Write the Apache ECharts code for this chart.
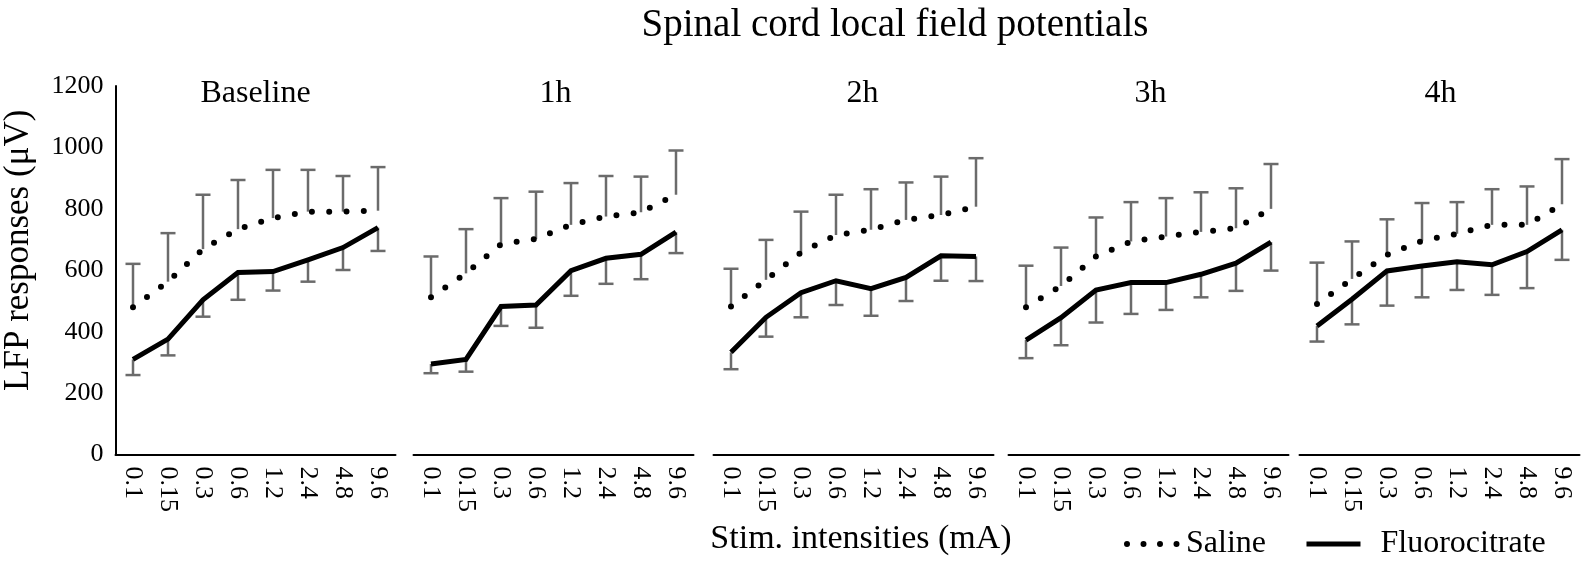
<!DOCTYPE html>
<html><head><meta charset="utf-8">
<script src="https://cdn.jsdelivr.net/npm/echarts@6/dist/echarts.min.js"></script>
<style>html,body{margin:0;padding:0;background:#fff}#c{width:1594px;height:574px}</style>
</head><body><div id="c"></div>
<script>
// ---------- data ----------
const categories = ['0.1', '0.15', '0.3', '0.6', '1.2', '2.4', '4.8', '9.6'];
const panelTitles = ['Baseline', '1h', '2h', '3h', '4h'];
const yMin = 0, yMax = 1200, yStep = 200;

const salineBaseline = [480, 563, 669, 734, 770, 791, 791, 794];
const salineBaselineSE = [141, 158, 177, 160, 157, 136, 116, 142];
const fluoroBaseline = [310, 376, 504, 593, 596, 634, 674, 739];
const fluoroBaselineSE = [51, 53, 55, 89, 62, 71, 73, 76];

const saline1h = [512, 590, 685, 702, 748, 775, 789, 846];
const saline1hSE = [133, 144, 150, 154, 136, 132, 116, 144];
const fluoro1h = [295, 310, 482, 487, 599, 639, 652, 724];
const fluoro1hSE = [30, 40, 63, 74, 82, 83, 81, 68];

const saline2h = [482, 569, 658, 715, 732, 764, 780, 807];
const saline2hSE = [123, 130, 133, 131, 132, 122, 125, 158];
const fluoro2h = [333, 447, 527, 566, 540, 577, 647, 645];
const fluoro2hSE = [55, 63, 80, 79, 88, 77, 81, 80];

const saline3h = [480, 549, 645, 694, 710, 725, 737, 800];
const saline3hSE = [135, 125, 127, 128, 125, 129, 130, 146];
const fluoro3h = [373, 446, 536, 560, 560, 587, 623, 692];
const fluoro3hSE = [59, 90, 106, 102, 89, 75, 90, 93];

const saline4h = [490, 572, 650, 696, 719, 748, 748, 815];
const saline4hSE = [135, 122, 116, 123, 103, 116, 125, 147];
const fluoro4h = [419, 506, 598, 614, 628, 618, 661, 732];
const fluoro4hSE = [51, 82, 113, 102, 92, 98, 119, 98];

const salineMeans = [salineBaseline, saline1h, saline2h, saline3h, saline4h];
const salineSEs = [salineBaselineSE, saline1hSE, saline2hSE, saline3hSE, saline4hSE];
const fluoroMeans = [fluoroBaseline, fluoro1h, fluoro2h, fluoro3h, fluoro4h];
const fluoroSEs = [fluoroBaselineSE, fluoro1hSE, fluoro2hSE, fluoro3hSE, fluoro4hSE];

// ---------- layout / style ----------
const FONT = '"Liberation Serif", "Times New Roman", serif';
const gridLefts = [115.5, 413.5, 713.5, 1008.5, 1299.5];
const titleShift = [0, 2, 9, 2, 1];
const gridWidth = 280, gridTop = 86, gridHeight = 368.6;
const ERR_COLOR = '#6b6b6b';

function errRender(dir) {
  return function (params, api) {
    const x = api.value(0), m = api.value(1), e = api.value(2);
    const p0 = api.coord([x, m]);
    const p1 = api.coord([x, m + dir * e]);
    const hw = 7.5;
    return {
      type: 'group',
      children: [
        { type: 'line', shape: { x1: p0[0], y1: p0[1], x2: p1[0], y2: p1[1] }, style: { stroke: ERR_COLOR, lineWidth: 2.5 } },
        { type: 'line', shape: { x1: p1[0] - hw, y1: p1[1], x2: p1[0] + hw, y2: p1[1] }, style: { stroke: ERR_COLOR, lineWidth: 2.5 } }
      ]
    };
  };
}

const grid = [], xAxis = [], yAxis = [], series = [];
const titles = [{
  text: 'Spinal cord local field potentials', left: 895, top: 6, textAlign: 'center', padding: 0,
  textStyle: { fontFamily: FONT, fontSize: 39, fontWeight: 'normal', color: '#000' }
}];

panelTitles.forEach((t, k) => {
  grid.push({ left: gridLefts[k], top: gridTop, width: gridWidth, height: gridHeight, containLabel: false });
  xAxis.push({
    type: 'category', gridIndex: k, data: categories, boundaryGap: true, offset: 4,
    axisLine: { show: true, lineStyle: { color: '#000', width: 2 } },
    axisTick: { show: false },
    axisLabel: { rotate: -90, margin: 8, fontFamily: FONT, fontSize: 26, color: '#000', interval: 0 },
    splitLine: { show: false }
  });
  yAxis.push({
    type: 'value', gridIndex: k, min: yMin, max: yMax, interval: yStep,
    show: k === 0,
    axisLine: { show: true, lineStyle: { color: '#000', width: 2 } },
    axisTick: { show: false },
    axisLabel: { margin: 12, fontFamily: FONT, fontSize: 26, color: '#000', formatter: v => String(v) },
    splitLine: { show: false },
    name: k === 0 ? 'LFP responses (μV)' : '',
    nameLocation: 'middle', nameGap: 79, nameRotate: 90,
    nameTextStyle: { fontFamily: FONT, fontSize: 35, color: '#000', padding: [0, 0, 0, 40] }
  });
  titles.push({
    text: t, left: gridLefts[k] + gridWidth / 2 + titleShift[k], top: 78, textAlign: 'center', padding: 0,
    textStyle: { fontFamily: FONT, fontSize: 32, fontWeight: 'normal', color: '#000' }
  });

  series.push({
    type: 'custom', xAxisIndex: k, yAxisIndex: k, silent: true, z: 1,
    renderItem: errRender(1),
    data: salineMeans[k].map((v, i) => [i, v, salineSEs[k][i]])
  });
  series.push({
    type: 'custom', xAxisIndex: k, yAxisIndex: k, silent: true, z: 1,
    renderItem: errRender(-1),
    data: fluoroMeans[k].map((v, i) => [i, v, fluoroSEs[k][i]])
  });
  series.push({
    name: 'Saline', type: 'line', xAxisIndex: k, yAxisIndex: k, z: 3,
    data: salineMeans[k], symbol: 'none', showSymbol: false, silent: true,
    itemStyle: { color: '#000' },
    lineStyle: { color: '#000', width: 6, type: [0, 17.3], cap: 'round' }
  });
  series.push({
    name: 'Fluorocitrate', type: 'line', xAxisIndex: k, yAxisIndex: k, z: 3,
    data: fluoroMeans[k], symbol: 'none', showSymbol: false, silent: true,
    itemStyle: { color: '#000' },
    lineStyle: { color: '#000', width: 5, type: 'solid', cap: 'butt', join: 'miter' }
  });
});

titles.push({
  text: 'Stim. intensities (mA)', left: 861, top: 522, textAlign: 'center', padding: 0,
  textStyle: { fontFamily: FONT, fontSize: 34, fontWeight: 'normal', color: '#000' }
});

const option = {
  animation: false,
  backgroundColor: '#fff',
  title: titles,
  legend: {
    left: 1124, top: 528, itemWidth: 54, itemHeight: 14, itemGap: 38, padding: 0,
    textStyle: { fontFamily: FONT, fontSize: 32, color: '#000' },
    selectedMode: false,
    itemStyle: { opacity: 0 },
    data: [
      { name: 'Saline', itemStyle: { opacity: 0 }, lineStyle: { color: '#000', width: 6, type: [0, 16.5], cap: 'round' } },
      { name: 'Fluorocitrate', itemStyle: { opacity: 0 }, lineStyle: { color: '#000', width: 5, type: 'solid' }, textStyle: { padding: [0, 0, 0, 15] } }
    ]
  },
  grid, xAxis, yAxis, series
};

const chart = echarts.init(document.getElementById('c'), null, { renderer: 'canvas' });
chart.setOption(option);
</script>
</body></html>
